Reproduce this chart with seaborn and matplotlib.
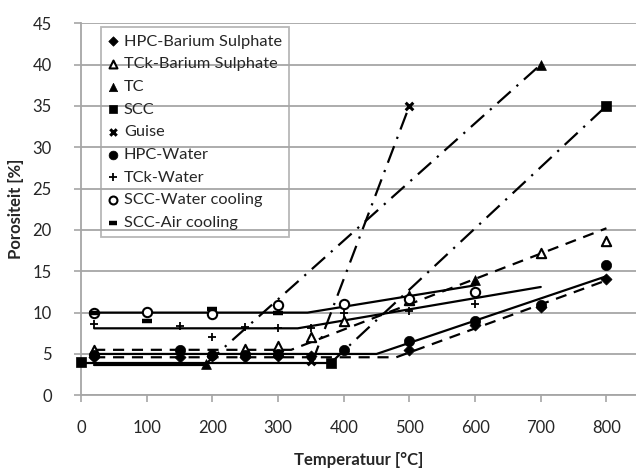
import matplotlib
matplotlib.use("Agg")
import matplotlib.pyplot as plt
import seaborn as sns
import pandas as pd

# ---- measured data (markers) ----
hpc_bs_x = [20, 150, 200, 250, 300, 350, 500, 600, 700, 800]
hpc_bs_y = [4.6, 4.6, 4.7, 4.6, 4.7, 4.7, 5.5, 8.5, 10.7, 14.1]

tck_bs_x = [20, 250, 300, 350, 400, 500, 700, 800]
tck_bs_y = [5.5, 5.6, 6.0, 7.0, 9.0, 11.5, 17.2, 18.6]

tc_x = [190, 500, 600, 700]
tc_y = [3.8, 12.1, 13.9, 40.0]

scc_x = [0, 380, 800]
scc_y = [4.0, 3.9, 35.0]

guise_x = [350, 500]
guise_y = [4.2, 35.0]

hpc_w_x = [20, 150, 200, 250, 300, 400, 500, 600, 700, 800]
hpc_w_y = [4.9, 5.5, 4.9, 4.9, 5.0, 5.5, 6.6, 9.0, 10.9, 15.8]

tck_w_x = [20, 150, 200, 250, 300, 350, 400, 500, 600]
tck_w_y = [8.6, 8.4, 7.1, 8.2, 8.1, 8.1, 9.9, 10.2, 11.0]

scc_wc_x = [20, 100, 200, 300, 400, 500, 600]
scc_wc_y = [10.0, 10.1, 9.8, 10.9, 11.1, 11.7, 12.5]

scc_ac_x = [20, 100, 200, 300]
scc_ac_y = [10.0, 9.0, 10.4, 10.0]

# ---- model lines ----
m_scc_cool_x = [20, 345, 600];  m_scc_cool_y = [10.0, 10.0, 13.3]
m_tckw_x = [20, 330, 700];      m_tckw_y = [8.1, 8.1, 13.1]
m_tckbs_x = [20, 320, 800];     m_tckbs_y = [5.5, 5.5, 20.2]
m_hpcw_x = [20, 450, 800];      m_hpcw_y = [5.0, 5.0, 14.4]
m_hpcbs_x = [20, 480, 800];     m_hpcbs_y = [4.6, 4.6, 13.9]
m_scc_flat_x = [0, 380];        m_scc_flat_y = [3.95, 3.95]
m_scc_rise_x = [380, 800];      m_scc_rise_y = [3.9, 35.0]
m_tc_flat_x = [20, 190];        m_tc_flat_y = [3.7, 3.7]
m_tc_rise_x = [190, 700];       m_tc_rise_y = [3.8, 40.0]
m_guise_x = [352, 500];         m_guise_y = [4.0, 35.0]

x_ticks = [0, 100, 200, 300, 400, 500, 600, 700, 800]
y_ticks = [0, 5, 10, 15, 20, 25, 30, 35, 40, 45]

sns.set_style("white")
plt.rcParams['font.family'] = ['Lato', 'DejaVu Sans']

fig = plt.figure(figsize=(6.36, 4.73), dpi=100)
ax = fig.add_axes([81/636, 1-395.3/473, 555/636, 372.1/473])

GRID = "#a6a6a6"
LW = 1.6
dash = (5, 3.5)
dashdot = (8, 3.5, 1, 3.5)

def line(xs, ys, style):
    d = pd.DataFrame({"x": xs, "y": ys})
    sns.lineplot(data=d, x="x", y="y", color="black", linewidth=LW, ax=ax, legend=False)
    ln = ax.lines[-1]
    if style == "dash":
        ln.set_dashes(dash)
    elif style == "dashdot":
        ln.set_dashes(dashdot)
    ln.set_dash_capstyle("butt")
    ln.set_zorder(3)

line(m_scc_cool_x, m_scc_cool_y, "solid")
line(m_tckw_x, m_tckw_y, "solid")
line(m_tckbs_x, m_tckbs_y, "dash")
line(m_hpcw_x, m_hpcw_y, "solid")
line(m_hpcbs_x, m_hpcbs_y, "dash")
line(m_scc_flat_x, m_scc_flat_y, "solid")
line(m_scc_rise_x, m_scc_rise_y, "dashdot")
line(m_tc_flat_x, m_tc_flat_y, "solid")
line(m_tc_rise_x, m_tc_rise_y, "dashdot")
line(m_guise_x, m_guise_y, "dashdot")

series = [
    ("HPC-Barium Sulphate", hpc_bs_x, hpc_bs_y, "D", 32, "black", 0.5),
    ("TCk-Barium Sulphate", tck_bs_x, tck_bs_y, "^", 45, "white", 1.5),
    ("TC", tc_x, tc_y, "^", 50, "black", 0.5),
    ("SCC", scc_x, scc_y, "s", 50, "black", 0.5),
    ("Guise", guise_x, guise_y, "x", 30, "black", 2.2),
    ("HPC-Water", hpc_w_x, hpc_w_y, "o", 55, "black", 0.5),
    ("TCk-Water", tck_w_x, tck_w_y, "+", 40, "black", 1.3),
    ("SCC-Water cooling", scc_wc_x, scc_wc_y, "o", 45, "white", 1.5),
    ("SCC-Air cooling", scc_ac_x, scc_ac_y, "_", 55, "black", 3.2),
]
handles = []
for name, xs, ys, mk, s, fc, mew in series:
    d = pd.DataFrame({"x": xs, "y": ys})
    sns.scatterplot(data=d, x="x", y="y", marker=mk, s=s, ax=ax,
                    color="black", facecolor=fc if mk not in ("x", "+", "_") else "black",
                    edgecolor="black", linewidth=mew, zorder=5,
                    clip_on=False, legend=False)
    h = ax.collections[-1]
    h.set_label(name)
    handles.append(h)

ax.set_xlim(0, 845)
ax.set_ylim(0, 45)
ax.set_xticks(x_ticks)
ax.set_yticks(y_ticks)
ax.set_xticklabels([str(v) for v in x_ticks], fontsize=12)
ax.set_yticklabels([str(v) for v in y_ticks], fontsize=12)
ax.grid(axis="y", color=GRID, linewidth=1.3)
ax.grid(axis="x", visible=False)
for sp in ["top", "right"]:
    ax.spines[sp].set_visible(False)
for sp in ["left", "bottom"]:
    ax.spines[sp].set_color(GRID)
    ax.spines[sp].set_linewidth(1.3)
ax.tick_params(axis="x", which="both", direction="out", length=5, width=1.2,
               color=GRID, pad=13, bottom=True)
ax.tick_params(axis="y", which="both", direction="out", length=5, width=1.2,
               color=GRID, pad=16, left=True)
ax.set_axisbelow(True)
ax.set_xlabel("Temperatuur [°C]", fontsize=12, fontweight="bold", labelpad=11)
ax.set_ylabel("Porositeit [%]", fontsize=12, fontweight="bold", labelpad=6)

leg = ax.legend(handles=handles, loc="upper left", bbox_to_anchor=(0.036, 0.99),
                borderaxespad=0, fontsize=11.8, frameon=True, fancybox=False,
                handlelength=0.6, handletextpad=0.35, labelspacing=0.5,
                borderpad=0.45, markerscale=0.85)
leg.get_frame().set_edgecolor(GRID)
leg.get_frame().set_facecolor("none")
leg.get_frame().set_linewidth(1.3)

fig.savefig("out.png", dpi=100)
